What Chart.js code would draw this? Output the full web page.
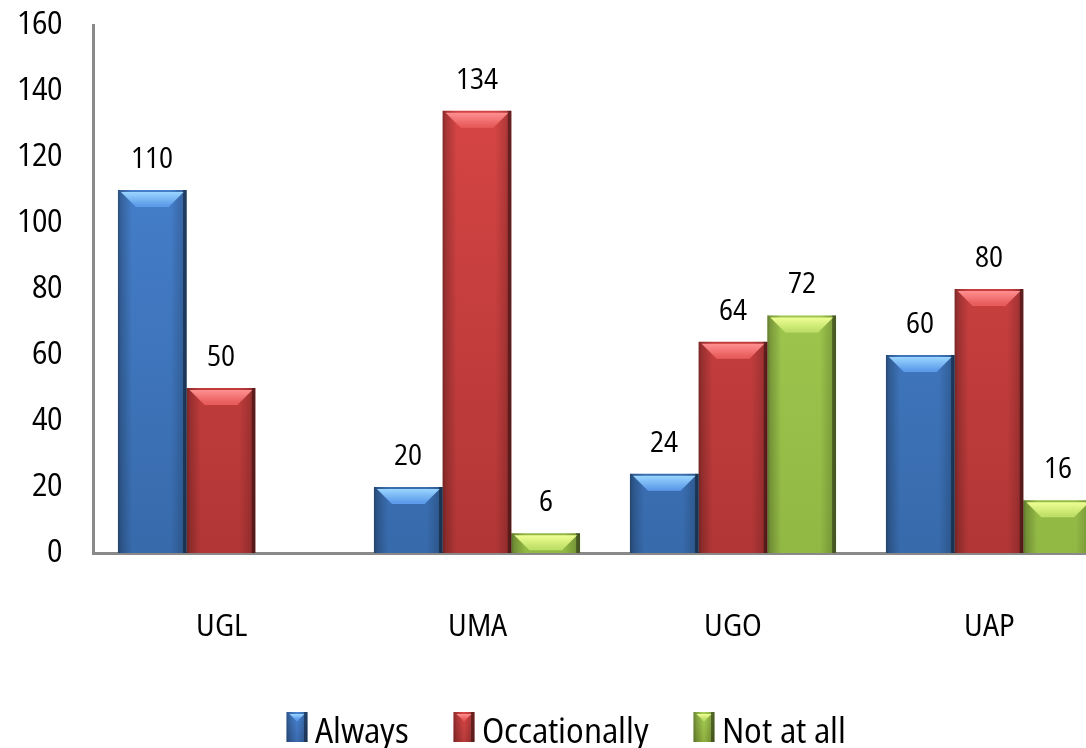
<!DOCTYPE html>
<html>
<head>
<meta charset="utf-8">
<script src="https://cdn.jsdelivr.net/npm/chart.js@4/dist/chart.umd.min.js"></script>
<style>
  @font-face {
    font-family: 'Open Sans Narrowed';
    src: local('Open Sans Regular'), local('OpenSans-Regular'), local('Open Sans');
    font-stretch: 85%;
    font-weight: 400;
    font-style: normal;
  }
  html, body { margin: 0; padding: 0; background: #fff; overflow: hidden; }
  #wrap { width: 1086px; height: 748px; overflow: hidden; position: relative; }
  canvas { display: block; }
</style>
</head>
<body>
<div id="wrap"><canvas id="c" width="1120" height="760"></canvas></div>
<script>
// Survey responses per group
const categories = ['UGL', 'UMA', 'UGO', 'UAP'];
const seriesNames = ['Always', 'Occationally', 'Not at all'];
const always = [110, 20, 24, 60];
const occationally = [50, 134, 64, 80];
const notAtAll = [null, 6, 72, 16];
const yMin = 0;
const yMax = 160;
const yStep = 20;

// Palette: top / bottom body colours, bevel highlight colours
const palette = [
  { top: '#4a86d6', bottom: '#376aab', hiA: '#9ad6ff', hiB: '#5e9cea', legend: '#3b6bb0' },
  { top: '#dc4747', bottom: '#b23636', hiA: '#ff9090', hiB: '#e85c5c', legend: '#b93a3a' },
  { top: '#aad356', bottom: '#92b844', hiA: '#efff94', hiB: '#bfe068', legend: '#8fb040' }
];

const FAMILY = '"Open Sans Narrowed", "Open Sans", sans-serif';
const canvasFont = (size) => `${size}px ${FAMILY}`;

function bodyGradient(chart, idx) {
  const area = chart.chartArea;
  const p = palette[idx];
  if (!area) return p.top;
  const g = chart.ctx.createLinearGradient(0, area.top, 0, area.bottom);
  g.addColorStop(0, p.top);
  g.addColorStop(1, p.bottom);
  return g;
}

// Side shading and top bevel drawn over a rectangle
function shadeBox(ctx, x0, x1, top, bottom, p, bevelMax) {
  const w = x1 - x0;
  const h = bottom - top;
  if (w <= 0 || h <= 0) return;
  const sg = ctx.createLinearGradient(x0, 0, x1, 0);
  sg.addColorStop(0, 'rgba(0,0,0,0.38)');
  sg.addColorStop(3 / w, 'rgba(0,0,0,0.22)');
  sg.addColorStop(Math.min(0.5, 14 / w), 'rgba(0,0,0,0)');
  sg.addColorStop(Math.max(0.5, 1 - 16 / w), 'rgba(0,0,0,0)');
  sg.addColorStop(1 - 4 / w, 'rgba(0,0,0,0.18)');
  sg.addColorStop(1 - 3.5 / w, 'rgba(0,0,0,0.5)');
  sg.addColorStop(1, 'rgba(0,0,0,0.55)');
  ctx.fillStyle = sg;
  ctx.fillRect(x0, top, w, h);
  const bev = Math.min(bevelMax, h - 2, w / 2 - 2);
  if (bev > 2) {
    const bg = ctx.createLinearGradient(0, top + 2, 0, top + bev);
    bg.addColorStop(0, p.hiA);
    bg.addColorStop(1, p.hiB);
    ctx.fillStyle = bg;
    ctx.beginPath();
    ctx.moveTo(x0 + 3, top + 2);
    ctx.lineTo(x1 - 3, top + 2);
    ctx.lineTo(x1 - 3 - bev, top + 2 + bev);
    ctx.lineTo(x0 + 3 + bev, top + 2 + bev);
    ctx.closePath();
    ctx.fill();
  }
}

const barShading = {
  id: 'barShading',
  afterDatasetsDraw(chart) {
    const ctx = chart.ctx;
    ctx.save();
    chart.data.datasets.forEach((ds, i) => {
      const meta = chart.getDatasetMeta(i);
      if (meta.hidden) return;
      meta.data.forEach((el, j) => {
        if (ds.data[j] == null) return;
        const { x, y, base, width } = el.getProps(['x', 'y', 'base', 'width'], true);
        shadeBox(ctx, x - width / 2, x + width / 2, y, base, palette[i], 15);
      });
    });
    ctx.restore();
  }
};

const valueLabels = {
  id: 'valueLabels',
  afterDatasetsDraw(chart) {
    const ctx = chart.ctx;
    ctx.save();
    ctx.font = canvasFont(29);
    ctx.fillStyle = '#000';
    ctx.textAlign = 'center';
    ctx.textBaseline = 'alphabetic';
    chart.data.datasets.forEach((ds, i) => {
      const meta = chart.getDatasetMeta(i);
      meta.data.forEach((el, j) => {
        const v = ds.data[j];
        if (v == null) return;
        const { x, y } = el.getProps(['x', 'y'], true);
        ctx.fillText(String(v), x, y - 22);
      });
    });
    ctx.restore();
  }
};

const bevelLegend = {
  id: 'bevelLegend',
  afterDraw(chart) {
    const ctx = chart.ctx;
    ctx.save();
    ctx.font = canvasFont(35);
    ctx.textBaseline = 'alphabetic';
    ctx.textAlign = 'left';
    const boxW = 21, boxH = 30, gap = 7, itemGap = 45;
    const names = chart.data.datasets.map(d => d.label);
    const widths = names.map(n => ctx.measureText(n).width);
    const total = widths.reduce((s, w) => s + boxW + gap + w, 0) + itemGap * (names.length - 1);
    let x = 566 - total / 2;
    const boxTop = 712;
    names.forEach((n, i) => {
      const p = palette[i];
      const g = ctx.createLinearGradient(0, boxTop, 0, boxTop + boxH);
      g.addColorStop(0, p.top);
      g.addColorStop(1, p.legend);
      ctx.fillStyle = g;
      ctx.fillRect(x, boxTop, boxW, boxH);
      shadeBox(ctx, x, x + boxW, boxTop, boxTop + boxH, p, 7);
      ctx.fillStyle = '#000';
      ctx.fillText(n, x + boxW + gap, 743);
      x += boxW + gap + widths[i] + itemGap;
    });
    ctx.restore();
  }
};

const seriesData = [always, occationally, notAtAll];

function drawChart() {
  new Chart(document.getElementById('c'), {
    type: 'bar',
    data: {
      labels: categories,
      datasets: seriesData.map((d, i) => ({
        label: seriesNames[i],
        data: d,
        backgroundColor: (c) => bodyGradient(c.chart, i),
        borderWidth: 0,
        categoryPercentage: 0.805,
        barPercentage: 1.0
      }))
    },
    options: {
      responsive: false,
      animation: false,
      devicePixelRatio: 1,
      layout: { padding: { top: 25, right: 3, bottom: 0, left: 0 } },
      plugins: {
        legend: { display: false },
        tooltip: { enabled: false }
      },
      scales: {
        x: {
          grid: { display: false, drawTicks: false },
          border: { display: true, color: '#898989', width: 3 },
          ticks: {
            color: '#000',
            font: { family: FAMILY, size: 31 },
            padding: 56,
            maxRotation: 0
          },
          afterFit(scale) { scale.height = 207; }
        },
        y: {
          min: yMin,
          max: yMax,
          grid: { display: false, drawTicks: false },
          border: { display: true, color: '#898989', width: 3 },
          ticks: {
            stepSize: yStep,
            color: '#000',
            font: { family: FAMILY, size: 32 },
            padding: 31
          },
          afterFit(scale) {
            scale.width = 93;
            scale.paddingTop = 0;
            scale.paddingBottom = 0;
          }
        }
      }
    },
    plugins: [barShading, valueLabels, bevelLegend]
  });
}

document.fonts.load('32px "Open Sans Narrowed"').then(drawChart, drawChart);
</script>
</body>
</html>
